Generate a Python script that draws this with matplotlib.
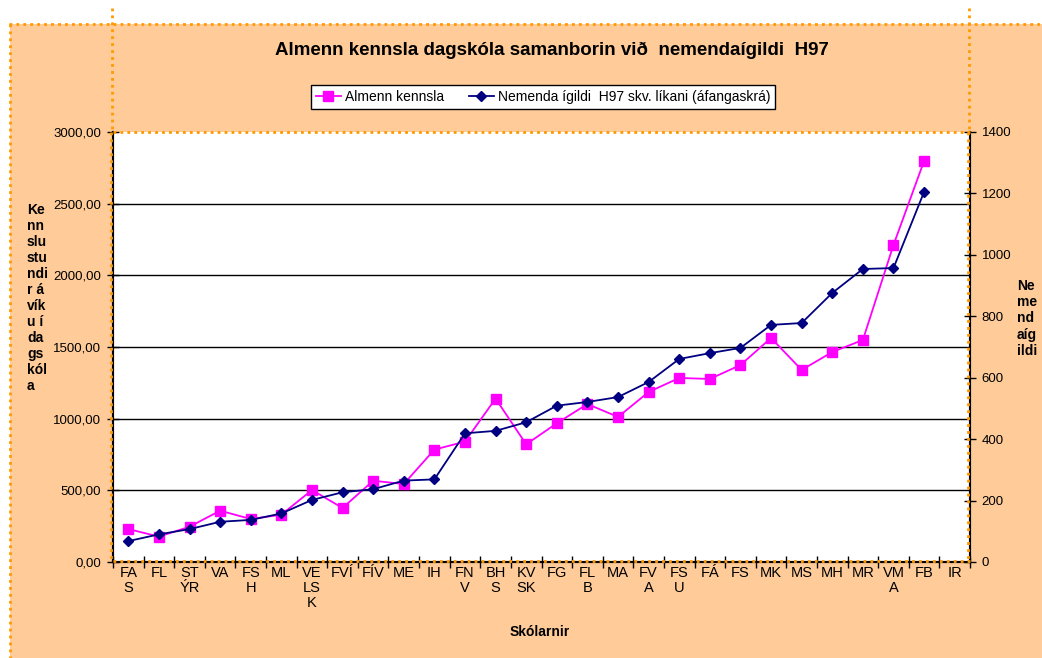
import numpy as np
import matplotlib
matplotlib.use("Agg")
import matplotlib.pyplot as plt
from matplotlib.lines import Line2D
from matplotlib.patches import Rectangle

# --- data ---
schools = ["FAS", "FL", "STÝR", "VA", "FSH", "ML", "VELSK", "FVÍ", "FÍV", "ME",
           "IH", "FNV", "BHS", "KVSK", "FG", "FLB", "MA", "FVA", "FSU", "FÁ",
           "FS", "MK", "MS", "MH", "MR", "VMA", "FB", "IR"]
tick_labels = ["FA\nS", "FL", "ST\nÝR", "VA", "FS\nH", "ML", "VE\nLS\nK", "FVÍ", "FÍV", "ME",
               "IH", "FN\nV", "BH\nS", "KV\nSK", "FG", "FL\nB", "MA", "FV\nA", "FS\nU", "FÁ",
               "FS", "MK", "MS", "MH", "MR", "VM\nA", "FB", "IR"]
almenn = [230, 177, 246, 358, 300, 330, 502, 377, 567, 544,
          784, 840, 1140, 821, 968, 1102, 1012, 1186, 1284, 1277,
          1374, 1563, 1340, 1465, 1549, 2212, 2798, np.nan]
nemendur = [68, 90, 107, 131, 137, 158, 202, 227, 237, 265,
            269, 419, 427, 455, 509, 521, 537, 586, 661, 680,
            697, 772, 778, 876, 954, 957, 1205, np.nan]
left_ticks = [0, 500, 1000, 1500, 2000, 2500, 3000]
left_labels = ["0,00", "500,00", "1000,00", "1500,00", "2000,00", "2500,00", "3000,00"]
right_ticks = [0, 200, 400, 600, 800, 1000, 1200, 1400]

PEACH = "#FFCC99"; ORANGE = "#FF9900"; PINK = "#FF00FF"; NAVY = "#000080"
plt.rcParams["font.family"] = ["Liberation Sans", "DejaVu Sans"]

W, H = 1042, 658
fig = plt.figure(figsize=(W / 100, H / 100), dpi=100)
fx = lambda px: px / W
fy = lambda py: 1 - py / H

# chart area background + dotted selection borders
fig.patches.append(Rectangle((fx(10), 0), 1 - fx(10), fy(24), transform=fig.transFigure,
                             facecolor=PEACH, edgecolor="none", zorder=-5))
dot = dict(color=ORANGE, lw=2, ls=(0, (1, 1.5)), transform=fig.transFigure, zorder=-4)
fig.add_artist(Line2D([fx(9), 1], [fy(24), fy(24)], **dot))
fig.add_artist(Line2D([fx(10), fx(10)], [fy(24), 0], **dot))
fig.add_artist(Line2D([fx(112), fx(112)], [fy(8), fy(131)], **dot))
fig.add_artist(Line2D([fx(969), fx(969)], [fy(8), fy(131)], **dot))

L, R, T, B = 113, 970, 132, 562
ax = fig.add_axes([fx(L), fy(B), fx(R) - fx(L), (B - T) / H])
ax.set_facecolor("white")
ax2 = ax.twinx()

x = np.arange(len(schools))
for v in left_ticks[1:-1]:
    ax.axhline(v, color="black", lw=1, zorder=1)
ax.plot(x, almenn, color=PINK, lw=1.3, marker="s", ms=7.5, mec=PINK, zorder=3)
ax2.plot(x, nemendur, color=NAVY, lw=1.3, marker="D", ms=5.5, mec=NAVY, zorder=3)

ax.set_xlim(-0.5, len(schools) - 0.5)
ax.set_ylim(0, 3000)
ax2.set_ylim(0, 1400)

ax.set_xticks(x)
ax.set_xticklabels(tick_labels, fontsize=10.5, linespacing=1.08, va="top")
ax.set_xticks(np.arange(-0.5, len(schools), 1), minor=True)
ax.tick_params(axis="x", which="major", length=0, pad=3)
ax.tick_params(axis="x", which="minor", direction="inout", length=8, width=1)
ax.set_yticks(left_ticks)
ax.set_yticklabels(left_labels, fontsize=9.5)
ax.tick_params(axis="y", direction="inout", length=9, width=1, pad=4)
ax2.set_yticks(right_ticks)
ax2.set_yticklabels([str(v) for v in right_ticks], fontsize=9.5)
ax2.tick_params(axis="y", direction="inout", length=9, width=1, pad=4)

for a in (ax, ax2):
    a.spines["top"].set_visible(False)
    for s in ("left", "right", "bottom"):
        a.spines[s].set_linewidth(1.5)

# dotted border around the plot area
top_dot = dict(dot, zorder=5)
fig.add_artist(Line2D([fx(L), fx(R)], [fy(T), fy(T)], **top_dot))
fig.add_artist(Line2D([fx(L - 2), fx(L - 2)], [fy(T), fy(B)], **top_dot))
fig.add_artist(Line2D([fx(R - 2), fx(R - 2)], [fy(T), fy(B)], **top_dot))
fig.add_artist(Line2D([fx(L), fx(R)], [fy(B - 1), fy(B - 1)], **top_dot))

fig.text(fx(552), fy(50), "Almenn kennsla dagskóla samanborin við  nemendaígildi  H97",
         ha="center", va="center", fontsize=13.5, fontweight="bold")
fig.text(fx(540), fy(632), "Skólarnir", ha="center", va="center",
         fontsize=10, fontweight="bold")
fig.text(fx(27), fy(203), "Ke\nnn\nslu\nstu\nndi\nr á\nvík\nu í\nda\ngs\nkól\na",
         ha="left", va="top", fontsize=10, fontweight="bold", linespacing=1.18)
fig.text(fx(1017), fy(279), "Ne\nme\nnd\naíg\nildi",
         ha="left", va="top", fontsize=10, fontweight="bold", linespacing=1.2)

handles = [Line2D([], [], color=PINK, lw=1.3, marker="s", ms=7.5),
           Line2D([], [], color=NAVY, lw=1.3, marker="D", ms=5.5)]
leg = fig.legend(handles, ["Almenn kennsla", "Nemenda ígildi  H97 skv. líkani (áfangaskrá)"],
                 loc="center", bbox_to_anchor=(fx(543), fy(97)), ncol=2,
                 frameon=True, fancybox=False, edgecolor="black", framealpha=1,
                 handlelength=1.8, handletextpad=0.3, columnspacing=1.8,
                 borderpad=0.35, prop={"size": 10})
leg.get_frame().set_linewidth(1)

fig.savefig("out.png", dpi=100, facecolor="white")
